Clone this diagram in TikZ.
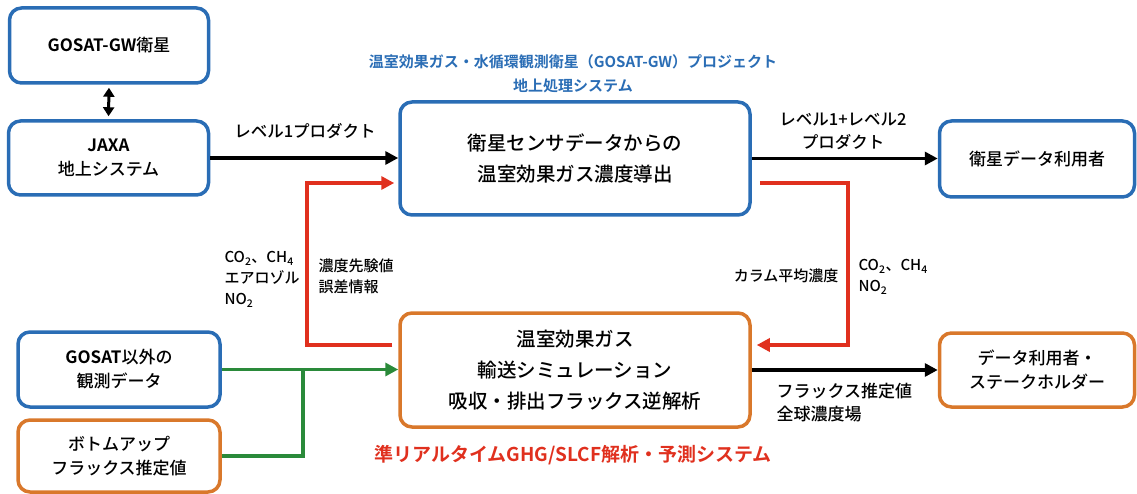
\documentclass[tikz,border=0pt]{standalone}
\usepackage{fontspec}
\setmainfont{Noto Sans CJK JP Medium}[BoldFont={Noto Sans CJK JP Bold}]
\usetikzlibrary{arrows.meta,calc}
\definecolor{bblue}{HTML}{2A6DB5}
\definecolor{borange}{HTML}{D9782B}
\definecolor{bred}{HTML}{E0301E}
\definecolor{bgreen}{HTML}{2A8A3A}
\tikzset{
  box/.style={draw, line width=3.5pt, rounded corners=12pt, align=center, inner sep=0pt},
  bluebox/.style={box, draw=bblue},
  orangebox/.style={box, draw=borange},
  big/.style={font=\fontsize{19.5}{31}\selectfont},
  mid/.style={font=\fontsize{17}{24}\selectfont},
  small/.style={font=\fontsize{15}{21}\selectfont, align=left},
  tip/.style={-{Triangle[length=13pt,width=13pt]}},
  blackarr/.style={tip, line width=3.5pt, black},
  redarr/.style={tip, line width=3.5pt, bred},
  greenarr/.style={tip, line width=3.5pt, bgreen},
  greenline/.style={line width=3.5pt, bgreen},
}
\begin{document}
\begin{tikzpicture}[x=1pt,y=-1pt]
\useasboundingbox (0,0) rectangle (1137,494);
% boxes
\node[bluebox, mid, minimum width=199pt, minimum height=75pt] (gosat) at (109,45.5) {\textbf{GOSAT-GW}衛星};
\node[bluebox, mid, minimum width=200pt, minimum height=74pt] (jaxa) at (108.5,158) {\textbf{JAXA}\\地上システム};
\node[bluebox, big, minimum width=350pt, minimum height=113pt] (sat) at (575,158.5) {衛星センサデータからの\\温室効果ガス濃度導出};
\node[bluebox, mid, minimum width=195pt, minimum height=76pt] (user1) at (1037,159) {衛星データ利用者};
\node[orangebox, big, minimum width=350pt, minimum height=114pt] (bot) at (575,370) {温室効果ガス\\輸送シミュレーション\\吸収・排出フラックス逆解析};
\node[orangebox, mid, minimum width=195pt, minimum height=74pt] (user2) at (1037,370) {データ利用者・\\ステークホルダー};
\node[bluebox, mid, minimum width=202pt, minimum height=75pt] (obs) at (119,369.5) {\textbf{GOSAT}以外の\\観測データ};
\node[orangebox, mid, minimum width=202pt, minimum height=72pt] (bu) at (119,456) {ボトムアップ\\フラックス推定値};
% titles
\node[font=\bfseries\fontsize{15}{24}\selectfont, text=bblue, align=center] (t1) at (573,74) {温室効果ガス・水循環観測衛星（GOSAT-GW）プロジェクト\\地上処理システム};
\node[font=\bfseries\fontsize{19}{24}\selectfont, text=bred] (t2) at (573,455) {準リアルタイムGHG/SLCF解析・予測システム};
% connectors
\draw[line width=3pt, {Triangle[length=9pt,width=11pt]}-{Triangle[length=9pt,width=11pt]}, shorten <=3pt, shorten >=3pt] (gosat.south) -- (jaxa.north);
\draw[blackarr] (jaxa.east) -- (jaxa.east -| sat.west);
\draw[blackarr] (sat.east) -- (sat.east -| user1.west);
\draw[blackarr] (bot.east) -- (bot.east -| user2.west);
\draw[redarr] ($(bot.west |- 0,345)+(-6,0)$) -| (307,183) -- ($(sat.west |- 0,183)+(-4,0)$);
\draw[redarr] ($(sat.east |- 0,183)+(8,0)$) -| (848,345) -- ($(bot.east |- 0,345)+(5,0)$);
\draw[greenarr] (obs.east) -- (obs.east -| bot.west);
\draw[greenline] (bu.east) -| (303,369.5);
% labels
\node[font=\fontsize{16.5}{22}\selectfont] (l1) at (305,131) {レベル1プロダクト};
\node[font=\fontsize{16.5}{23}\selectfont, align=center] (l2) at (843,131) {レベル1+レベル2\\プロダクト};
\node[small, anchor=north west] (l3) at (221,248) {CO\textsubscript{2}、CH\textsubscript{4}\\エアロゾル\\NO\textsubscript{2}};
\node[small, anchor=north west] (l4) at (315,255) {濃度先験値\\誤差情報};
\node[small, anchor=east] (l5) at (842,276) {カラム平均濃度};
\node[small, anchor=north west] (l6) at (855,256) {CO\textsubscript{2}、CH\textsubscript{4}\\NO\textsubscript{2}};
\node[font=\fontsize{17}{23}\selectfont, align=left, anchor=north west] (l7) at (773,380) {フラックス推定値\\全球濃度場};
\end{tikzpicture}
\end{document}
